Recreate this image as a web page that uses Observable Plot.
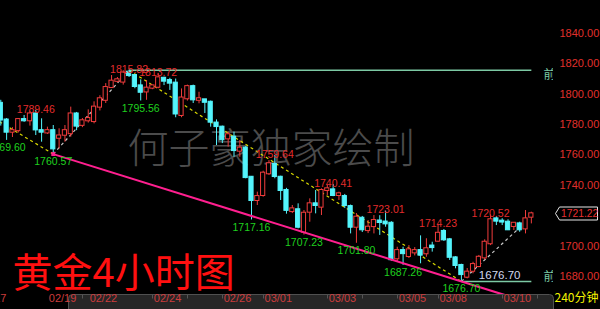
<!DOCTYPE html>
<html>
<head>
<meta charset="utf-8">
<script src="https://cdn.jsdelivr.net/npm/d3@7"></script>
<script src="https://cdn.jsdelivr.net/npm/@observablehq/plot@0.6"></script>
<style>
  html, body { margin: 0; padding: 0; background: #000; }
  #chart svg { display: block; }
</style>
</head>
<body>
<div id="chart"></div>
<script>
// 4-hour gold bars, one entry per bar (index 0 = leftmost bar)
const open = [1794,1783,1775,1776,1783.3,1782.5,1787,1776,1774.5,1776,
  1771,1773,1774,1787,1779.5,1782.5,1782,1791.5,1796,1804.4,
  1808.5,1808,1814.5,1812.3,1805.5,1801.5,1804,1804.6,1810.5,1809,
  1807.3,1786,1797,1805,1796,1796.3,1794.7,1781,1778.3,1770.6,
  1771.7,1762.5,1764.5,1745.3,1730,1733.3,1747.6,1753.7,1745.3,1736.6,
  1722.7,1723.9,1709.1,1722.3,1727.8,1725.6,1736.6,1737,1733.3,1732.6,
  1726,1712.4,1718.3,1710.2,1712.8,1716.5,1715.8,1715,1691.6,1697,
  1693.1,1695.5,1697,1694.9,1700,1703.2,1709.6,1704.1,1692.2,1687.2,
  1679.5,1683.4,1686.5,1692.2,1701.5,1717.9,1716.4,1715.7,1712.9,1714.6,
  1711.3,1719];
const high = [1796,1784,1778,1784,1786,1788.5,1789.46,1783.8,1778.3,1779.4,
  1777.2,1779.4,1791.5,1788,1784,1789.7,1795,1799,1807,1812.3,
  1811,1815.5,1815.82,1813,1809.5,1809,1806,1813.72,1811.2,1810.5,
  1810,1803.5,1806,1806,1801.3,1796.5,1795.5,1783.1,1779,1775,
  1775,1769.5,1765.5,1745.8,1735.5,1749.3,1756.3,1759.64,1746,1738,
  1726.7,1727.8,1723.4,1731.1,1736.6,1737.7,1739.9,1740.41,1735.5,1734,
  1727,1721.4,1719.5,1716.8,1720.1,1720,1723.01,1716,1699.2,1699.2,
  1700.3,1699,1706.7,1704.8,1702.5,1714.23,1710.9,1705,1693,1688,
  1685.2,1689.3,1693.8,1704.1,1720.52,1719.4,1718,1717.3,1715.5,1715.7,
  1723.4,1722.3];
const low = [1779,1769.6,1771.5,1774.5,1781.5,1779,1772.8,1768.4,1773.5,1760.57,
  1764,1768.4,1771.7,1776,1778,1781,1780.5,1789,1793.9,1803.8,
  1807.5,1806,1811,1803.6,1795.56,1796,1803,1803.6,1805.7,1802.5,
  1784.5,1784.5,1795.5,1793.9,1793.7,1787.3,1778.3,1766.2,1767.5,1765.1,
  1758.5,1758.5,1744.3,1717.16,1726.7,1732.2,1746.5,1744.3,1730,1721,
  1721.4,1711.3,1707.23,1715.7,1721.2,1720.1,1733.3,1732.5,1730,1724.7,
  1708,1701.8,1708.9,1708.2,1708,1707,1712.4,1690,1689.3,1687.26,
  1691.8,1693.5,1688.3,1692.6,1696,1702.5,1703,1690.5,1685,1676.7,
  1678.4,1681.7,1685.7,1690.9,1700.3,1713.5,1713.5,1710.2,1710.2,1709.1,
  1708,1714.6];
const close = [1783,1775,1776,1783.3,1782.5,1787,1776.5,1775,1776,1764,
  1772.5,1776,1787,1779,1782.5,1784,1791.5,1797,1804.4,1808.6,
  1809.5,1814,1812.3,1805.1,1801.3,1804,1805.5,1810.8,1808.6,1807.3,
  1787,1797.5,1805,1796.3,1797,1794.7,1781.6,1778.7,1770,1773.3,
  1762.9,1764.5,1745.1,1730,1732.6,1748,1754.2,1745.8,1736.6,1723.5,
  1724.5,1712.4,1721.6,1727.8,1726.7,1736.6,1737.7,1733.3,1734.4,1726.7,
  1712.4,1719,1710.7,1712.4,1716.8,1715.5,1714.6,1691,1697,1695,
  1697.5,1697,1694,1698.2,1699,1708.4,1704.1,1692.6,1687.2,1681.2,
  1682.8,1687.8,1692.6,1702.5,1717.3,1716.4,1715.8,1710.7,1715,1710.7,
  1717.9,1721.22];

// right-hand price scale (the 1720 label sits under the latest-price tag)
const priceTicks = [1680, 1700, 1740, 1760, 1780, 1800, 1820, 1840];

// date labels along the bottom, placed by bar index
const dateLabels = ["02/17","02/19","02/22","02/24","02/26","03/01","03/03","03/05","03/08","03/10"];
const datePos    = [-1.4, 10.6, 17.6, 28.6, 40.6, 47.6, 58.6, 70.6, 77.6, 88.6];
// day separators on the scroll strip
const stripTicks = [14, 26, 32, 38, 45, 56, 62, 68, 75, 86, 92];

// marked swing highs / lows
const swingHighIdx = [6, 22, 27, 47, 57, 66, 75, 84];
const swingHighVal = [1789.46, 1815.82, 1813.72, 1759.64, 1740.41, 1723.01, 1714.23, 1720.52];
const swingLowIdx  = [1, 9, 24, 43, 52, 61, 69, 79];
const swingLowVal  = [1769.60, 1760.57, 1795.56, 1717.16, 1707.23, 1701.80, 1687.26, 1676.70];

// zig-zag turning points (first one lies left of the visible window)
const zigIdx = [-2, 9, 22, 79, 90];
const zigVal = [1786, 1760.57, 1815.82, 1676.70, 1715.7];

// support line through the two major lows
const trendIdx = [9, 79];
const trendVal = [1760.57, 1676.70];
const trendEnd = 88;

// horizontal levels: top and bottom of the move
const levelVal   = [1815.82, 1676.70];
const levelStart = [22, 79];
const levelEnd   = 91;

const lastPrice = 1721.22;

const RED = "#f03c3c", CYAN = "#54f4fc", YEL = "#d8d800", GREY = "#c8c8c8";
const MINT = "#7cc9a4", PINK = "#ff1f8f";
const NUM_FONT = "'Liberation Sans', Arial, sans-serif";
const CJK_FONT = "'Noto Sans CJK SC', sans-serif";

const bars = open.map((o, i) => ({i, o, h: high[i], l: low[i], c: close[i], up: close[i] >= o}));
const highs = swingHighIdx.map((i, k) => ({i, v: swingHighVal[k]}));
const lows = swingLowIdx.map((i, k) => ({i, v: swingLowVal[k]}));
const zigSegs = zigIdx.slice(1).map((i, k) => ({
  i1: zigIdx[k], v1: zigVal[k], i2: i, v2: zigVal[k + 1], down: zigVal[k + 1] < zigVal[k]
}));
const slope = (trendVal[1] - trendVal[0]) / (trendIdx[1] - trendIdx[0]);
const trend = [{i1: trendIdx[0], v1: trendVal[0], i2: trendEnd, v2: trendVal[0] + slope * (trendEnd - trendIdx[0])}];
const levels = levelVal.map((v, k) => ({v, i1: levelStart[k], i2: levelEnd}));
const dates = dateLabels.map((t, k) => ({t, i: datePos[k]}));

// grey scroll strip under the bars
function scrollStrip(_, scales, values, dims) {
  const g = d3.create("svg:g");
  g.append("rect")
    .attr("x", 68.5).attr("y", 294.5)
    .attr("width", dims.width - dims.marginRight - 68).attr("height", 22)
    .attr("rx", 4)
    .attr("fill", "#262626").attr("stroke", "#505050");
  for (const t of stripTicks) {
    const x = Math.round(scales.x(t)) + 0.5;
    g.append("line").attr("x1", x).attr("x2", x).attr("y1", 295).attr("y2", 298.5)
      .attr("stroke", "#555");
  }
  return g.node();
}

// framed tag for the latest price on the right scale
function priceTag(_, scales, values, dims) {
  const y = Math.round(scales.y(lastPrice)) + 0.5;
  const x0 = dims.width - dims.marginRight + 2.5;
  return d3.create("svg:path")
    .attr("d", `M${x0},${y} L${x0 + 4},${y - 6.5} H${dims.width - 2.5} V${y + 6.5} H${x0 + 4} Z`)
    .attr("fill", "#000").attr("stroke", "#e6e6e6").attr("stroke-width", 1)
    .node();
}

const chart = Plot.plot({
  width: 600,
  height: 309,
  marginLeft: 0,
  marginRight: 47,
  marginTop: 0,
  marginBottom: 0,
  style: {background: "#000", fontFamily: NUM_FONT, overflow: "visible"},
  x: {domain: [-0.05, 94.8], axis: null},
  y: {domain: [1658.2, 1861.74], axis: null},
  marks: [
    // watermark
    Plot.text(["何子豪独家绘制"], {
      frameAnchor: "top-left", dx: 127, dy: 133, textAnchor: "start",
      fontSize: 41, fill: "#4b4b4b", fontFamily: CJK_FONT, fontWeight: 300
    }),
    // title
    Plot.text(["黄金4小时图"], {
      frameAnchor: "top-left", dx: 12, dy: 258, textAnchor: "start",
      fontSize: 40, fill: "#ff1010", fontFamily: CJK_FONT
    }),
    // zig-zag legs
    Plot.link(zigSegs, {
      x1: "i1", y1: "v1", x2: "i2", y2: "v2",
      stroke: d => d.down ? YEL : GREY, strokeWidth: 1.2, strokeDasharray: "3,3", clip: true
    }),
    // horizontal levels
    Plot.link(levels, {x1: "i1", x2: "i2", y1: "v", y2: "v", stroke: MINT, strokeWidth: 1.5}),
    // candles: wicks then bodies
    Plot.ruleX(bars, {
      x: "i", y1: "l", y2: "h", stroke: d => d.up ? RED : CYAN, strokeWidth: 1, clip: true
    }),
    Plot.rect(bars, {
      x1: d => d.i - 0.36, x2: d => d.i + 0.36, y1: "o", y2: "c",
      fill: d => d.up ? "#000" : CYAN, stroke: d => d.up ? RED : CYAN, strokeWidth: 1,
      insetTop: -0.5, insetBottom: -0.5, clip: true
    }),
    // support line
    Plot.link(trend, {x1: "i1", y1: "v1", x2: "i2", y2: "v2", stroke: PINK, strokeWidth: 2}),
    Plot.dot(trend, {x: "i1", y: "v1", symbol: "square", r: 2.2, fill: PINK}),
    // swing labels
    Plot.text(highs, {
      x: "i", y: "v", text: d => d.v.toFixed(2), dy: -1,
      fill: "#e42c2c", fontSize: 10.5, fontFamily: NUM_FONT
    }),
    Plot.text(lows, {
      x: "i", y: "v", text: d => d.v.toFixed(2), dy: 7.5,
      fill: "#1fd01f", fontSize: 10.5, fontFamily: NUM_FONT
    }),
    // value of the lower level
    Plot.text([levelVal[1]], {
      x: () => 82, y: d => d, text: d => d.toFixed(2), dy: -6, textAnchor: "start",
      fill: "#d2d8ee", fontSize: 11.5, fontFamily: NUM_FONT
    }),
    // level tags at the right edge
    Plot.text([levelVal[0]], {
      y: d => d, text: () => "前", frameAnchor: "right", dx: -10, dy: 5, textAnchor: "start",
      fill: MINT, fontSize: 12, fontFamily: CJK_FONT, clip: true
    }),
    Plot.text([levelVal[1]], {
      y: d => d, text: () => "前", frameAnchor: "right", dx: -10, dy: -4, textAnchor: "start",
      fill: MINT, fontSize: 12, fontFamily: CJK_FONT, clip: true
    }),
    // bottom strip with dates
    scrollStrip,
    Plot.text(dates, {
      x: "i", text: "t", frameAnchor: "bottom", dy: -8,
      fill: "#cc3c3c", fontSize: 11, fontFamily: NUM_FONT
    }),
    Plot.text(["240分钟"], {
      frameAnchor: "bottom-right", dx: 45, dy: -8, textAnchor: "end",
      fill: "#f2f200", fontSize: 12, fontFamily: CJK_FONT
    }),
    // right price scale
    Plot.text(priceTicks, {
      y: d => d, text: d => d.toFixed(2), frameAnchor: "right", dx: 6, textAnchor: "start",
      fill: "#e0302c", fontSize: 11, fontFamily: NUM_FONT
    }),
    priceTag,
    Plot.text([lastPrice], {
      y: d => d, text: d => d.toFixed(2), frameAnchor: "right", dx: 7.5, textAnchor: "start",
      fill: "#e83030", fontSize: 10.3, fontFamily: NUM_FONT
    })
  ]
});

document.getElementById("chart").appendChild(chart);
</script>
</body>
</html>
